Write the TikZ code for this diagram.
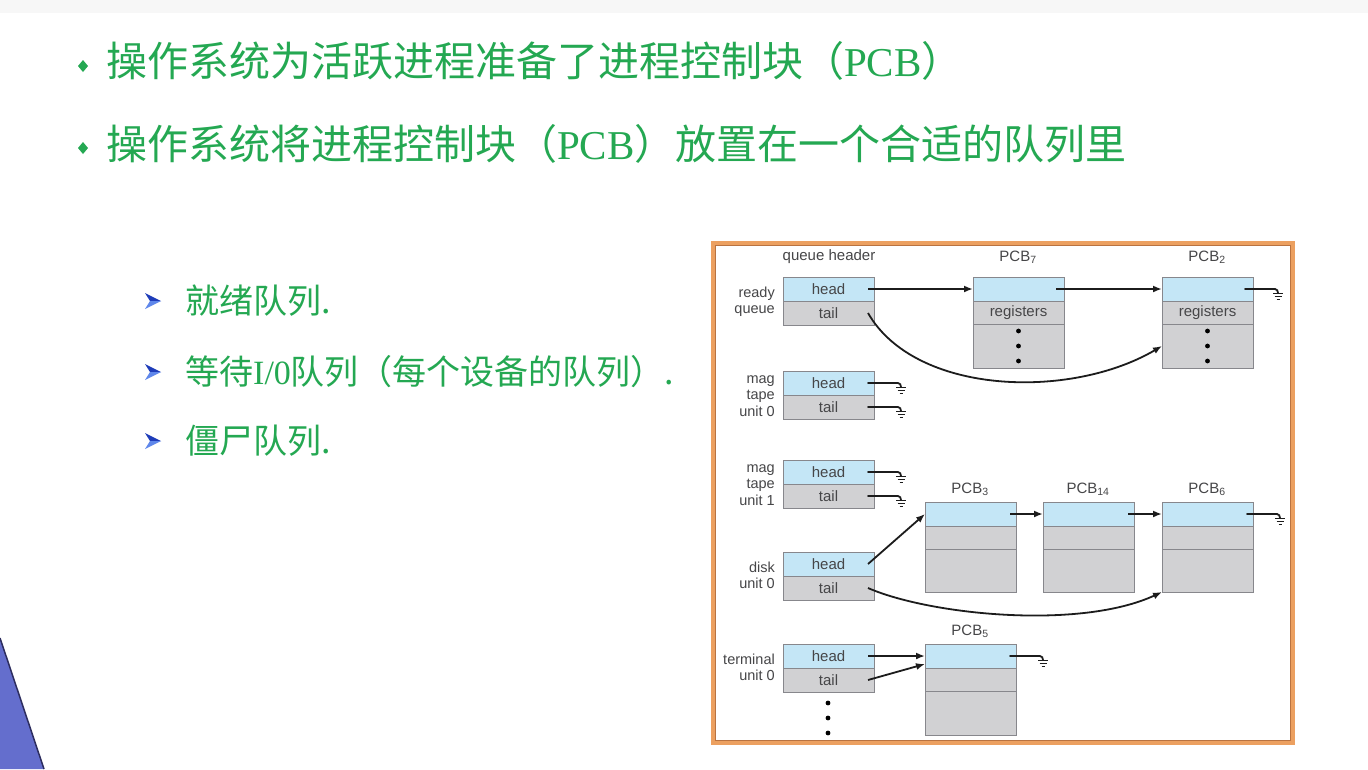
\documentclass[tikz,border=0pt]{standalone}
\usepackage{fontspec}
\setmainfont{Noto Sans CJK SC}
\newfontfamily\pcbserif{Liberation Serif}
\newfontfamily\lab{Liberation Sans}
\usetikzlibrary{arrows.meta}

\definecolor{titlegreen}{RGB}{36,168,82}
\definecolor{tipdark}{RGB}{30,60,185}
\definecolor{tiplight}{RGB}{95,135,235}
\definecolor{framefill}{RGB}{236,160,96}
\definecolor{frameline}{RGB}{185,115,65}
\definecolor{cellblue}{RGB}{196,230,246}
\definecolor{cellgrey}{RGB}{209,209,211}
\definecolor{boxline}{RGB}{135,135,140}
\definecolor{labgrey}{RGB}{70,70,72}
\definecolor{connector}{RGB}{28,28,28}
\definecolor{topband}{RGB}{247,247,247}
\definecolor{cornerblue}{RGB}{100,110,205}
\definecolor{corneredge}{RGB}{45,45,95}

\tikzset{
  title/.style={anchor=west, inner sep=0pt, text=titlegreen,
    font={\fontsize{41}{45}\selectfont}},
  subitem/.style={anchor=west, inner sep=0pt, text=titlegreen,
    font={\fontsize{34}{38}\selectfont}},
  cell/.style={draw=boxline, line width=1pt, minimum width=91pt,
    inner sep=0pt, outer sep=0pt, text=labgrey,
    font={\lab\fontsize{15}{17}\selectfont}},
  hcell/.style={cell, fill=cellblue, minimum height=24pt},
  gcell/.style={cell, fill=cellgrey, minimum height=24pt},
  qlabel/.style={anchor=east, align=right, inner sep=0pt, text=labgrey,
    font={\lab\fontsize{14.5}{16.5}\selectfont}},
  pcblabel/.style={inner sep=0pt, text=labgrey,
    font={\lab\fontsize{15}{17}\selectfont}},
  conn/.style={draw=connector, line width=1.8pt},
  link/.style={conn, -{Latex[length=9pt,width=7pt]}},
  pics/gnd/.style={code={
    \draw[conn, line cap=round] (0,0) -- (30,0) to[out=0,in=90] (33,4);
    \draw[conn, line width=1.5pt] (28,4.5) -- (38,4.5) (29.5,7.5) -- (36.5,7.5) (31.5,10.5) -- (34.5,10.5);
  }},
  pics/subtip/.style={code={
    \fill[tipdark] (-8,-8) -- (8,0) -- (-3,0) -- cycle;
    \fill[tiplight] (-8,8) -- (8,0) -- (-3,0) -- cycle;
  }}
}

% one process control block: name, centre x, top y, middle text, bottom height
\newcommand{\pcbstack}[5]{%
  \node[hcell] (#1h) at (#2,{#3+12}) {};
  \node[gcell, minimum height=23pt] (#1m) at (#2,{#3+35.5}) {#4};
  \node[gcell, minimum height=#5pt] (#1b) at (#2,{#3+47+#5/2}) {};
}

\begin{document}
\begin{tikzpicture}[x=1pt,y=-1pt]
\useasboundingbox (0,0) rectangle (1368,769);
\fill[white] (0,0) rectangle (1368,769);
\fill[topband] (0,0) rectangle (1368,13);

% corner decoration
\fill[cornerblue] (0,638) -- (44,769) -- (0,769) -- cycle;
\draw[corneredge, line width=1.5pt] (0,638) -- (44,769);

% headline bullets
\fill[titlegreen] (83,60) -- (88,66) -- (83,72) -- (78,66) -- cycle;
\fill[titlegreen] (83,142) -- (88,148) -- (83,154) -- (78,148) -- cycle;
\node[title] (t1) at (106,61) {操作系统为活跃进程准备了进程控制块（{\pcbserif PCB}）};
\node[title] (t2) at (106,144) {操作系统将进程控制块（{\pcbserif PCB}）放置在一个合适的队列里};

% queue kinds
\pic at (153,301) {subtip};
\pic at (153,372) {subtip};
\pic at (153,441) {subtip};
\node[subitem] (s1) at (185,301) {就绪队列.};
\node[subitem] (s2) at (185,372) {等待{\pcbserif I/0}队列（每个设备的队列）.};
\node[subitem] (s3) at (185,441) {僵尸队列.};

% frame of the queue figure
\draw[framefill, line width=4pt] (713,243) rectangle (1293,743);
\draw[frameline, line width=0.8pt] (715.5,245.5) rectangle (1290.5,740.5);

% queue headers
\node[pcblabel] (qh) at (829,257) {queue header};
\node[hcell] (rqH) at (828.5,289) {head};
\node[gcell] (rqT) at (828.5,313) {tail};
\node[hcell] (m0H) at (828.5,383) {head};
\node[gcell] (m0T) at (828.5,407) {tail};
\node[hcell] (m1H) at (828.5,472) {head};
\node[gcell] (m1T) at (828.5,496) {tail};
\node[hcell] (dkH) at (828.5,564) {head};
\node[gcell] (dkT) at (828.5,588) {tail};
\node[hcell] (tmH) at (828.5,656) {head};
\node[gcell] (tmT) at (828.5,680) {tail};

\node[qlabel] (lrq) at (775,301.5) {ready\\queue};
\node[qlabel] (lm0) at (775,396) {mag\\tape\\unit 0};
\node[qlabel] (lm1) at (775,485) {mag\\tape\\unit 1};
\node[qlabel] (ldk) at (775,575.5) {disk\\unit 0};
\node[qlabel] (ltm) at (775,667.5) {terminal\\unit 0};

\foreach \yy in {703,718,733} \fill[black] (828,\yy) circle (2.4);

% process control blocks
\pcbstack{p7}{1018.5}{277}{registers}{44}
\pcbstack{p2}{1207.5}{277}{registers}{44}
\pcbstack{p3}{970.5}{502}{}{43}
\pcbstack{p14}{1088.5}{502}{}{43}
\pcbstack{p6}{1207.5}{502}{}{43}
\pcbstack{p5}{970.5}{644}{}{44}

\foreach \yy in {331,346,361} {
  \fill[black] (1018.5,\yy) circle (2.4);
  \fill[black] (1207.5,\yy) circle (2.4);
}

\node[pcblabel] (l7) at (1018,257) {PCB\textsubscript{7}};
\node[pcblabel] (l2) at (1207,257) {PCB\textsubscript{2}};
\node[pcblabel] (l3) at (970,489) {PCB\textsubscript{3}};
\node[pcblabel] (l14) at (1088,489) {PCB\textsubscript{14}};
\node[pcblabel] (l6) at (1207,489) {PCB\textsubscript{6}};
\node[pcblabel] (l5) at (970,631) {PCB\textsubscript{5}};

% ready queue links
\draw[link] ([xshift=-6pt]rqH.east) -- (p7h.west);
\draw[link] ([xshift=-8pt]p7h.east) -- (p2h.west);
\pic at ([xshift=-8pt]p2h.east) {gnd};
\draw[link] ([xshift=-6pt]rqT.east) .. controls +(47,82) and +(-92,54) .. (p2b.west);

% empty tape queues
\pic at ([xshift=-6pt]m0H.east) {gnd};
\pic at ([xshift=-6pt]m0T.east) {gnd};
\pic at ([xshift=-6pt]m1H.east) {gnd};
\pic at ([xshift=-6pt]m1T.east) {gnd};

% disk queue
\draw[link] ([xshift=-6pt]dkH.east) -- (p3h.west);
\draw[link] ([xshift=-6pt]p3h.east) -- (p14h.west);
\draw[link] ([xshift=-6pt]p14h.east) -- (p6h.west);
\pic at ([xshift=-6pt]p6h.east) {gnd};
\draw[link] ([xshift=-6pt]dkT.east) .. controls +(62,27) and +(-82,38) .. (p6b.south west);

% terminal queue
\draw[link] ([xshift=-6pt]tmH.east) -- (p5h.west);
\draw[link] ([xshift=-6pt]tmT.east) -- ([yshift=-8pt]p5h.west);
\pic at ([xshift=-6pt]p5h.east) {gnd};
\end{tikzpicture}
\end{document}
